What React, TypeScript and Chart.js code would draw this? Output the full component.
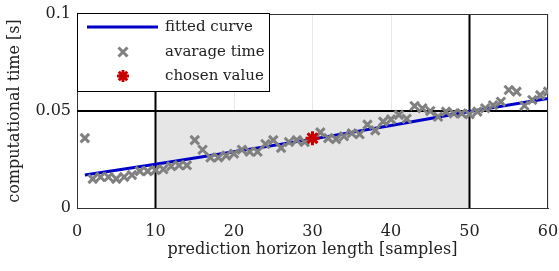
import React, { useEffect, useRef } from 'react';
import { Chart, registerables } from 'chart.js';

Chart.register(...registerables);

const horizons = Array.from({ length: 60 }, (_, i) => i + 1);
const avgTime = [
  0.036, 0.015, 0.016, 0.016, 0.015, 0.016, 0.017, 0.019, 0.019, 0.0195,
  0.020, 0.0215, 0.022, 0.022, 0.035, 0.030, 0.026, 0.026, 0.027, 0.028,
  0.030, 0.029, 0.029, 0.033, 0.035, 0.031, 0.034, 0.035, 0.034, 0.036,
  0.039, 0.036, 0.0355, 0.037, 0.0385, 0.038, 0.043, 0.040, 0.0445, 0.0457,
  0.048, 0.046, 0.0526, 0.0514, 0.050, 0.047, 0.0497, 0.0488, 0.0488, 0.0483,
  0.0497, 0.0514, 0.053, 0.0548, 0.0608, 0.060, 0.0527, 0.0557, 0.0582, 0.060,
];
const fitX = [1, 10, 20, 30, 40, 50, 60];
const fitY = [0.017, 0.0225, 0.029, 0.0355, 0.0425, 0.0497, 0.0565];
const chosenX = [30];
const chosenY = [0.036];
const xTicks = [0, 10, 20, 30, 40, 50, 60];
const yTicks = [0, 0.05, 0.1];
const yTickLabels = ['0', '0.05', '0.1'];
const regionX = [10, 50];
const regionYMax = 0.05;
const legendLabels = ['fitted curve', 'avarage time', 'chosen value'];

const FONT = "'DejaVu Serif', serif";

const overlayPlugin = {
  id: 'overlay',
  beforeDatasetsDraw(chart: any) {
    const { ctx, chartArea, scales } = chart;
    const xs = scales.x, ys = scales.y;
    ctx.save();
    const x0 = xs.getPixelForValue(regionX[0]);
    const x1 = xs.getPixelForValue(regionX[1]);
    const yb = ys.getPixelForValue(0);
    const yt = ys.getPixelForValue(regionYMax);
    ctx.fillStyle = '#e6e6e6';
    ctx.fillRect(x0, yt, x1 - x0, yb - yt);
    ctx.strokeStyle = '#000';
    ctx.lineWidth = 2;
    ctx.beginPath();
    ctx.moveTo(chartArea.left, yt);
    ctx.lineTo(chartArea.right, yt);
    ctx.moveTo(x0, chartArea.top);
    ctx.lineTo(x0, chartArea.bottom);
    ctx.moveTo(x1, chartArea.top);
    ctx.lineTo(x1, chartArea.bottom);
    ctx.stroke();
    ctx.lineWidth = 1;
    ctx.strokeStyle = '#333';
    ctx.beginPath();
    ctx.moveTo(chartArea.left, chartArea.top + 0.5);
    ctx.lineTo(chartArea.right, chartArea.top + 0.5);
    ctx.moveTo(chartArea.right - 0.5, chartArea.top);
    ctx.lineTo(chartArea.right - 0.5, chartArea.bottom);
    ctx.stroke();
    ctx.restore();
  },
  afterDatasetsDraw(chart: any) {
    const { ctx, chartArea } = chart;
    const left = chartArea.left;
    const top = chartArea.top - 1;
    const w = 193, h = 79;
    ctx.save();
    ctx.fillStyle = '#fff';
    ctx.fillRect(left, top, w, h);
    ctx.strokeStyle = '#000';
    ctx.lineWidth = 1;
    ctx.strokeRect(left + 0.5, top + 0.5, w - 1, h - 1);
    const rows = [top + 14, top + 39, top + 63];
    ctx.strokeStyle = '#0000c8';
    ctx.lineWidth = 3;
    ctx.beginPath();
    ctx.moveTo(left + 10, rows[0]);
    ctx.lineTo(left + 81, rows[0]);
    ctx.stroke();
    const cx = left + 46;
    ctx.strokeStyle = '#808080';
    ctx.lineWidth = 3;
    ctx.beginPath();
    ctx.moveTo(cx - 4.5, rows[1] - 4.5);
    ctx.lineTo(cx + 4.5, rows[1] + 4.5);
    ctx.moveTo(cx + 4.5, rows[1] - 4.5);
    ctx.lineTo(cx - 4.5, rows[1] + 4.5);
    ctx.stroke();
    ctx.strokeStyle = '#c80000';
    ctx.lineWidth = 3;
    ctx.beginPath();
    const r = 6;
    for (let k = 0; k < 4; k++) {
      const a = (k * Math.PI) / 4;
      ctx.moveTo(cx + r * Math.cos(a), rows[2] + r * Math.sin(a));
      ctx.lineTo(cx - r * Math.cos(a), rows[2] - r * Math.sin(a));
    }
    ctx.stroke();
    ctx.fillStyle = '#222';
    ctx.font = `15px ${FONT}`;
    ctx.textBaseline = 'middle';
    ctx.textAlign = 'left';
    legendLabels.forEach((t, i) => ctx.fillText(t, left + 88, rows[i]));
    ctx.restore();
  },
};

export default function App() {
  const ref = useRef<HTMLCanvasElement>(null);
  useEffect(() => {
    if (!ref.current) return;
    const chart = new Chart(ref.current, {
      type: 'line',
      data: {
        datasets: [
          {
            label: legendLabels[0],
            data: fitX.map((x, i) => ({ x, y: fitY[i] })),
            borderColor: '#0000c8',
            borderWidth: 3,
            pointRadius: 0,
            order: 3,
          },
          {
            label: legendLabels[1],
            data: horizons.map((x, i) => ({ x, y: avgTime[i] })),
            showLine: false,
            pointStyle: 'crossRot',
            pointRadius: 6,
            pointBorderWidth: 3,
            borderColor: '#808080',
            backgroundColor: '#808080',
            order: 2,
          },
          {
            label: legendLabels[2],
            data: chosenX.map((x, i) => ({ x, y: chosenY[i] })),
            showLine: false,
            pointStyle: 'star',
            pointRadius: 7,
            pointBorderWidth: 3,
            borderColor: '#c80000',
            backgroundColor: '#c80000',
            order: 1,
          },
        ] as any,
      },
      options: {
        animation: false,
        responsive: false,
        layout: { padding: { top: 14, right: 11, left: 0, bottom: 0 } },
        plugins: { legend: { display: false }, tooltip: { enabled: false } },
        scales: {
          x: {
            type: 'linear',
            min: 0,
            max: 60,
            afterBuildTicks: (s: any) => {
              s.ticks = xTicks.map((v) => ({ value: v }));
            },
            afterFit: (s: any) => {
              s.height = 63;
              s.paddingLeft = 0;
              s.paddingRight = 0;
            },
            grid: { color: '#e8e8e8', drawTicks: false },
            border: { color: '#333', width: 1 },
            ticks: {
              color: '#222',
              font: { family: FONT, size: 16 },
              padding: 14,
              maxRotation: 0,
              callback: (v: any) => String(v),
            },
            title: {
              display: true,
              text: 'prediction horizon length [samples]',
              color: '#222',
              font: { family: FONT, size: 16 },
              padding: { top: 0, bottom: 12 },
            },
          },
          y: {
            type: 'linear',
            min: 0,
            max: 0.1,
            afterBuildTicks: (s: any) => {
              s.ticks = yTicks.map((v) => ({ value: v }));
            },
            afterFit: (s: any) => {
              s.width = 77;
              s.paddingTop = 0;
              s.paddingBottom = 0;
            },
            grid: { color: '#e8e8e8', drawTicks: false },
            border: { color: '#333', width: 1 },
            ticks: {
              color: '#222',
              font: { family: FONT, size: 16 },
              padding: 6,
              callback: (v: any) => {
                const i = yTicks.findIndex((t) => Math.abs(t - v) < 1e-9);
                return i >= 0 ? yTickLabels[i] : '';
              },
            },
            title: {
              display: true,
              text: 'computational time [s]',
              color: '#222',
              font: { family: FONT, size: 16 },
              padding: { top: 5, bottom: 0 },
            },
          },
        },
      },
      plugins: [overlayPlugin],
    });
    return () => chart.destroy();
  }, []);
  return (
    <div style={{ position: 'fixed', left: 0, top: 0, width: 559, height: 271, background: '#fff' }}>
      <canvas ref={ref} width={559} height={271} />
    </div>
  );
}
